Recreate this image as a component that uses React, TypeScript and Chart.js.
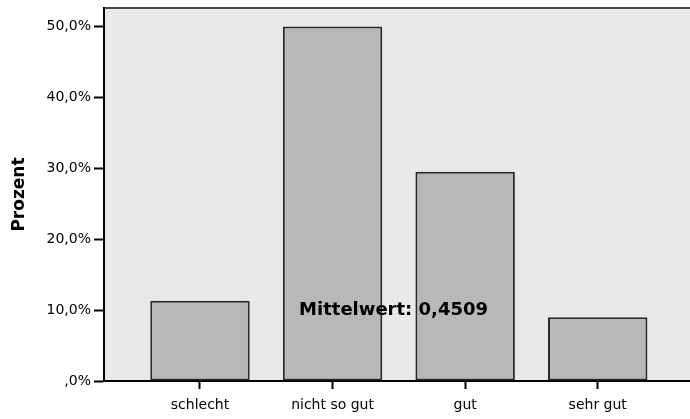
import React, { useEffect, useRef } from "react";
import { Chart, registerables } from "chart.js";

Chart.register(...registerables);

const categories: string[] = ["schlecht", "nicht so gut", "gut", "sehr gut"];
const percentValues: number[] = [11.3, 50.0, 29.5, 9.0];
const yTickValues: number[] = [0, 10, 20, 30, 40, 50];
const yAxisTitle = "Prozent";
const meanLabel = "Mittelwert: 0,4509";

const FONT = "'DejaVu Sans', 'Liberation Sans', Arial, sans-serif";

const formatPct = (v: number): string =>
  v === 0 ? ",0%" : v.toFixed(1).replace(".", ",") + "%";

const plotDecor = {
  id: "plotDecor",
  beforeDraw(chart: any) {
    const { ctx, chartArea } = chart;
    ctx.save();
    ctx.fillStyle = "#e9e9e9";
    ctx.fillRect(chartArea.left, chartArea.top, chartArea.right - chartArea.left, chartArea.bottom - chartArea.top);
    ctx.strokeStyle = "#4a4a4a";
    ctx.lineWidth = 2;
    ctx.beginPath();
    ctx.moveTo(chartArea.left, chartArea.top);
    ctx.lineTo(chartArea.right, chartArea.top);
    ctx.stroke();
    ctx.restore();
  },
  afterDatasetsDraw(chart: any) {
    const { ctx, scales } = chart;
    const x = scales.x.getPixelForValue(1.46);
    const y = scales.y.getPixelForValue(10);
    ctx.save();
    ctx.fillStyle = "#000";
    ctx.font = `bold 18px ${FONT}`;
    ctx.textAlign = "center";
    ctx.textBaseline = "middle";
    ctx.fillText(meanLabel, x, y);
    ctx.restore();
  },
};

export default function App() {
  const canvasRef = useRef<HTMLCanvasElement | null>(null);

  useEffect(() => {
    if (!canvasRef.current) return;
    const chart = new Chart(canvasRef.current, {
      type: "bar",
      data: {
        datasets: [
          {
            data: percentValues.map((v, i) => ({ x: i, y: v })),
            backgroundColor: "#b8b8b8",
            borderColor: "#2a2a2a",
            borderWidth: 2,
            borderSkipped: false,
            barPercentage: 0.75,
            categoryPercentage: 1.0,
          },
        ],
      },
      options: {
        responsive: false,
        animation: false,
        layout: { padding: { top: 8, right: 0, left: 0, bottom: 0 } },
        plugins: {
          legend: { display: false },
          tooltip: { enabled: false },
        },
        scales: {
          x: {
            type: "linear",
            min: -0.724,
            max: 3.696,
            offset: false,
            afterBuildTicks: (scale: any) => {
              scale.ticks = categories.map((_, i) => ({ value: i }));
            },
            afterFit: (scale: any) => {
              scale.height = 38;
              scale.paddingLeft = 0;
              scale.paddingRight = 0;
            },
            ticks: {
              autoSkip: false,
              maxRotation: 0,
              padding: 8,
              color: "#000",
              font: { family: FONT, size: 14 },
              callback: (v: any) => categories[Math.round(Number(v))] ?? "",
            },
            grid: {
              offset: false,
              drawOnChartArea: false,
              drawTicks: true,
              tickLength: 8,
              tickWidth: 2,
              tickColor: "#000",
            },
            border: { display: true, color: "#000", width: 2 },
          },
          y: {
            min: 0,
            max: 52.6,
            afterBuildTicks: (scale: any) => {
              scale.ticks = yTickValues.map((v) => ({ value: v }));
            },
            afterFit: (scale: any) => {
              scale.width = 104;
              scale.paddingTop = 0;
              scale.paddingBottom = 0;
            },
            ticks: {
              padding: 3,
              color: "#000",
              font: { family: FONT, size: 14 },
              callback: (v: any) => formatPct(Number(v)),
            },
            grid: {
              drawOnChartArea: false,
              drawTicks: true,
              tickLength: 10,
              tickWidth: 2,
              tickColor: "#000",
            },
            border: { display: true, color: "#000", width: 2 },
            title: {
              display: true,
              text: yAxisTitle,
              color: "#000",
              padding: { top: 9, bottom: 4 },
              font: { family: FONT, size: 17, weight: "bold" },
            },
          },
        },
      },
      plugins: [plotDecor],
    });
    return () => chart.destroy();
  }, []);

  return (
    <div style={{ position: "absolute", left: 0, top: 0, width: 690, height: 419, background: "#fff" }}>
      <canvas ref={canvasRef} width={690} height={419} />
    </div>
  );
}
